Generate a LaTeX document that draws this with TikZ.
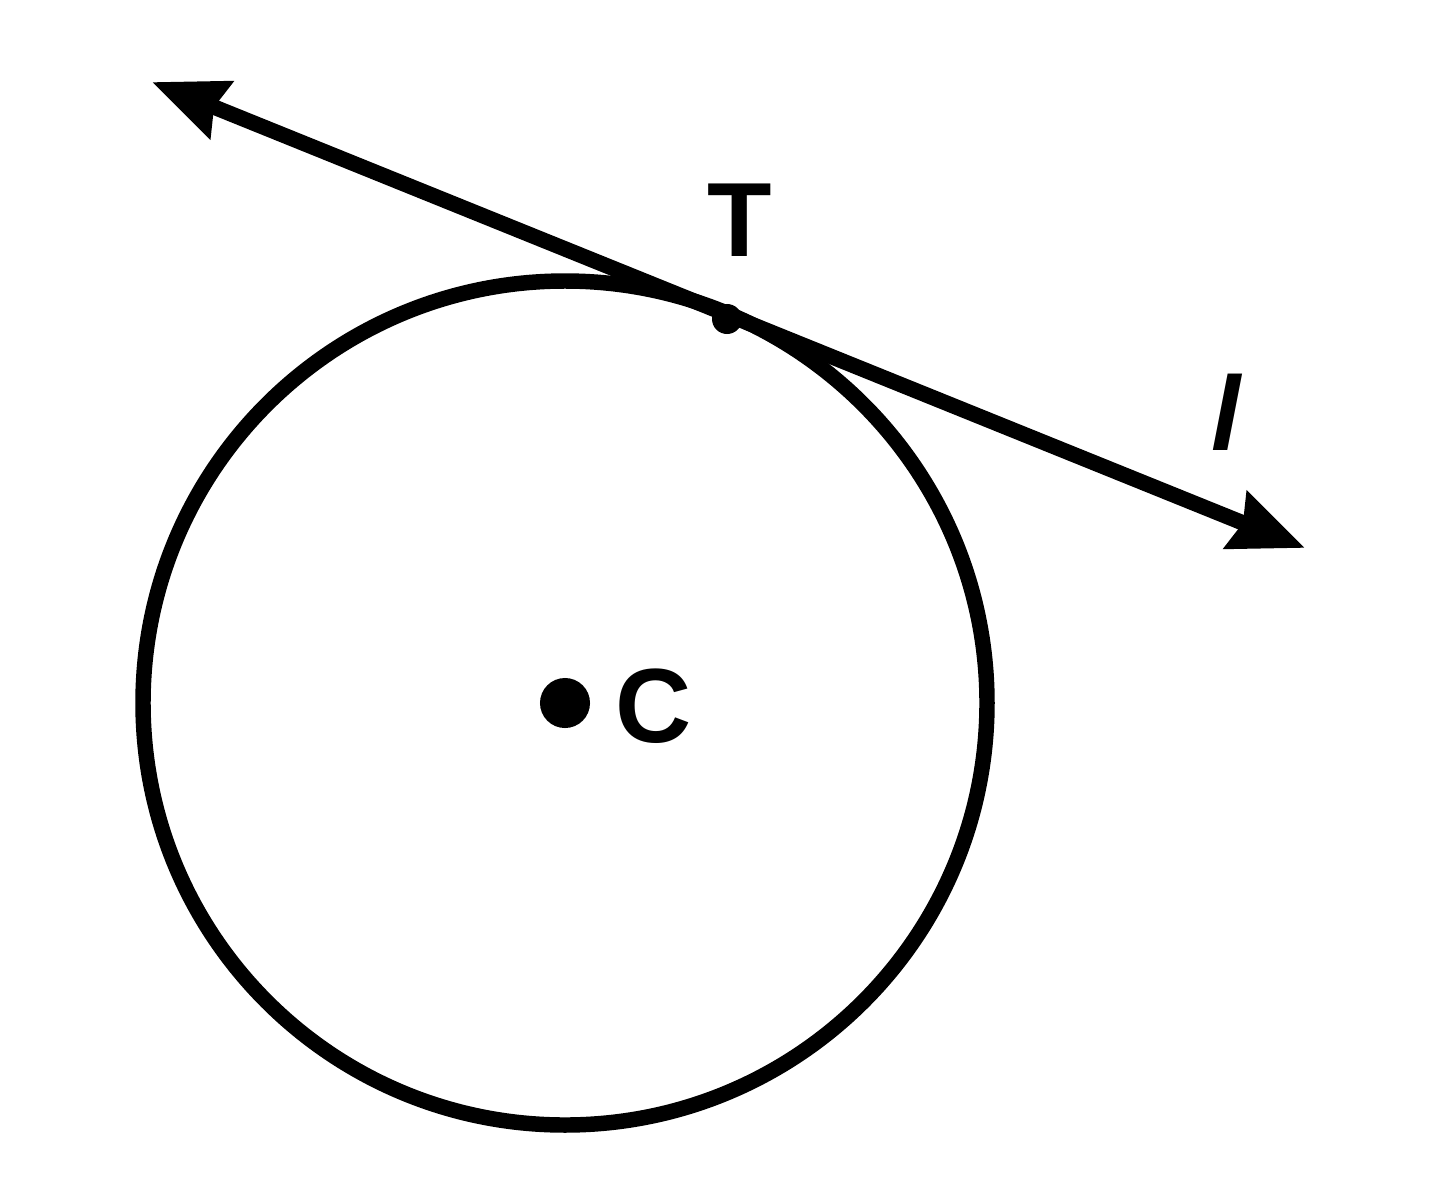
\documentclass[tikz,border=0pt]{standalone}
\usepackage{fontspec}
\setmainfont{Liberation Sans}
\usetikzlibrary{arrows.meta,calc}
\tikzset{
  kreis/.style={line width=4.4pt},
  tangente/.style={line width=4.4pt,{Stealth[length=21pt,width=17pt,inset=2pt]}-{Stealth[length=21pt,width=17pt,inset=2pt]}},
  punkt/.style={circle,fill=black,inner sep=0pt},
  beschriftung/.style={inner sep=0pt,font=\fontsize{30}{36}\selectfont\bfseries}
}
\begin{document}
\begin{tikzpicture}[x=0.01cm,y=-0.01cm]
\useasboundingbox (0,0) rectangle (1440,1200);
%Kreis um C
\coordinate (M) at (565,703);
\draw[kreis] (M) circle (422);
\node[punkt,minimum size=0.5cm] (C) at (M) {};
\node[beschriftung] (Cname) at (654,706) {C};
%Tangente l durch T
\coordinate (A) at (152,82);
\coordinate (B) at (1305,548);
\draw[tangente] (A) -- (B);
\node[punkt,minimum size=0.3cm] (T) at (727,319) {};
\node[beschriftung] (Tname) at (740,220) {T};
\node[beschriftung] (lname) at (1226,412) {\itshape l};
\end{tikzpicture}
\end{document}
